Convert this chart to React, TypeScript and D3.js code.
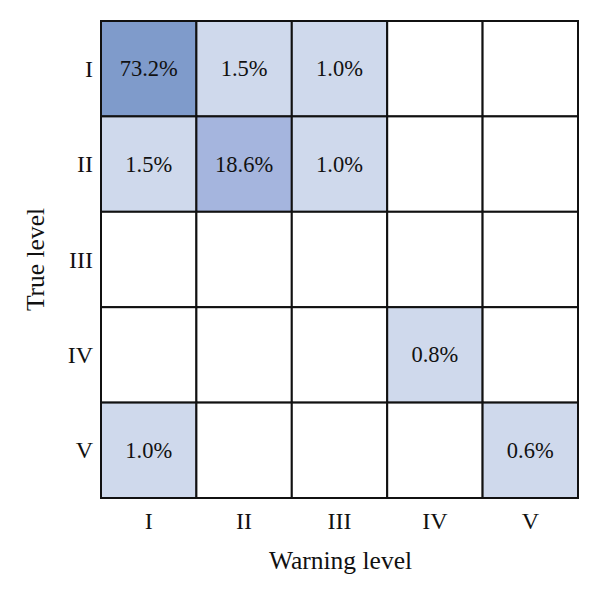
import * as d3 from "d3";

const levels = ["I", "II", "III", "IV", "V"];
// rows: true level, columns: warning level (percent)
const matrix: number[][] = [
  [73.2, 1.5, 1.0, 0, 0],
  [1.5, 18.6, 1.0, 0, 0],
  [0, 0, 0, 0, 0],
  [0, 0, 0, 0.8, 0],
  [1.0, 0, 0, 0, 0.6],
];
const xTitle = "Warning level";
const yTitle = "True level";

const width = 600;
const height = 596;
const margin = { top: 21, right: 22, bottom: 98, left: 101 };
const font = "'Liberation Serif', 'DejaVu Serif', serif";

export default function App() {
  const x = d3.scaleBand().domain(levels).range([margin.left, width - margin.right]);
  const y = d3.scaleBand().domain(levels).range([margin.top, height - margin.bottom]);
  const color = d3
    .scaleThreshold<number, string>()
    .domain([0.01, 10, 50])
    .range(["#ffffff", "#cfd9ec", "#a5b5de", "#7f9bcb"]);

  const cells = matrix.flatMap((row, i) =>
    row.map((v, j) => ({ row: levels[i], col: levels[j], v }))
  );

  return (
    <svg
      width={width}
      height={height}
      style={{ position: "absolute", left: 0, top: 0, background: "#fff" }}
      fontFamily={font}
    >
      {cells.map((c) => (
        <g key={c.row + c.col}>
          <rect
            x={x(c.col)}
            y={y(c.row)}
            width={x.bandwidth()}
            height={y.bandwidth()}
            fill={color(c.v)}
            stroke="#111"
            strokeWidth={2}
          />
          {c.v > 0 && (
            <text
              x={x(c.col)! + x.bandwidth() / 2}
              y={y(c.row)! + y.bandwidth() / 2}
              textAnchor="middle"
              dominantBaseline="central"
              fontSize={22.5}
              fill="#111"
            >
              {c.v.toFixed(1)}%
            </text>
          )}
        </g>
      ))}
      {levels.map((l) => (
        <text
          key={"x" + l}
          x={x(l)! + x.bandwidth() / 2}
          y={height - margin.bottom + 23}
          textAnchor="middle"
          dominantBaseline="central"
          fontSize={24}
          fill="#111"
        >
          {l}
        </text>
      ))}
      {levels.map((l) => (
        <text
          key={"y" + l}
          x={margin.left - 8}
          y={y(l)! + y.bandwidth() / 2}
          textAnchor="end"
          dominantBaseline="central"
          fontSize={24}
          fill="#111"
        >
          {l}
        </text>
      ))}
      <text
        x={margin.left + (width - margin.left - margin.right) / 2 + 1}
        y={height - 36}
        textAnchor="middle"
        dominantBaseline="central"
        fontSize={25.5}
        fill="#111"
      >
        {xTitle}
      </text>
      <text
        transform={`translate(35,${margin.top + (height - margin.top - margin.bottom) / 2}) rotate(-90)`}
        textAnchor="middle"
        dominantBaseline="central"
        fontSize={25.5}
        fill="#111"
      >
        {yTitle}
      </text>
    </svg>
  );
}
